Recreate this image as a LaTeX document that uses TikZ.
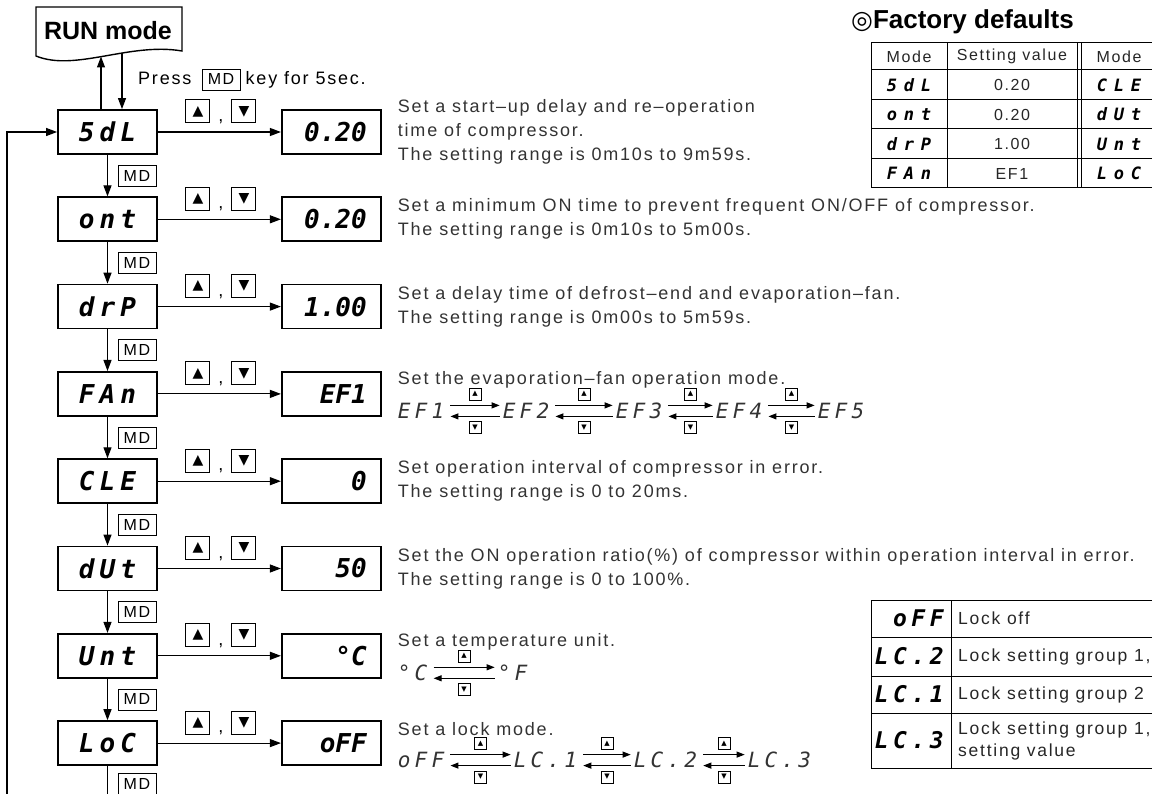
\documentclass[tikz,border=0pt]{standalone}
\usepackage{fontspec}
\setmainfont{Liberation Sans}
\newfontfamily\descfont[LetterSpace=10]{Liberation Sans}
\newfontfamily\modefont[LetterSpace=20]{DejaVu Sans Mono}
\newfontfamily\valfont{DejaVu Sans Mono}
\newfontfamily\cycfont[LetterSpace=20]{DejaVu Sans Mono}
\newfontfamily\tsegfont[LetterSpace=40]{DejaVu Sans Mono}
\newfontfamily\symfont{DejaVu Sans}
\usetikzlibrary{arrows.meta,positioning,calc}

\newcommand{\upkey}{{\symfont ▲}}
\newcommand{\dnkey}{{\symfont ▼}}
% pair of arrows between two values of a cycle
\newcommand{\swapkeys}[2]{%
  \draw[tarr] ([xshift=6pt,yshift=5.5pt]#1.east) -- node[smallbtn, above=5pt] (u-#1) {\upkey} ([xshift=-3pt,yshift=5.5pt]#2.west);
  \draw[tarr] ([xshift=-3pt,yshift=-5.5pt]#2.west) -- node[smallbtn, below=5pt] (d-#1) {\dnkey} ([xshift=6pt,yshift=-5.5pt]#1.east);
}

\begin{document}
\begin{tikzpicture}[
    x=1pt, y=-1pt,
    font=\descfont\fontsize{18}{24}\selectfont,
    node distance=41.5pt,
    modebox/.style={draw, line width=1.8pt, minimum width=99pt, minimum height=44pt, inner sep=0pt,
        font=\modefont\bfseries\itshape\fontsize{26}{26}\selectfont},
    valbox/.style={draw, line width=1.8pt, minimum width=99pt, minimum height=44pt, inner sep=0pt,
        text width=71pt, align=right, font=\valfont\bfseries\itshape\fontsize{26}{26}\selectfont},
    keybox/.style={draw, line width=0.9pt, minimum width=38pt, minimum height=21pt, inner sep=0pt,
        font=\descfont\fontsize{16}{16}\selectfont},
    btn/.style={draw, line width=1pt, minimum width=24pt, minimum height=23pt, inner sep=0pt,
        font=\symfont\fontsize{14}{14}\selectfont},
    smallbtn/.style={draw, line width=0.7pt, minimum size=12pt, inner sep=0pt,
        font=\symfont\fontsize{7}{7}\selectfont},
    desc/.style={align=left, inner sep=0pt, text=black!80},
    cyc/.style={inner sep=0pt, anchor=west, text=black!80, font=\cycfont\itshape\fontsize{21}{21}\selectfont},
    tseg/.style={inner sep=0pt, font=\tsegfont\bfseries\itshape\fontsize{17}{17}\selectfont},
    lseg/.style={inner sep=0pt, font=\modefont\bfseries\itshape\fontsize{23}{23}\selectfont},
    cell/.style={inner sep=0pt, text=black!85, font=\descfont\fontsize{16}{16}\selectfont},
    lcell/.style={inner sep=0pt, text=black!85, anchor=west, align=left, font=\descfont\fontsize{17.5}{22}\selectfont},
    tline/.style={line width=1pt},
    arr/.style={-{Triangle[length=11pt,width=8pt]}, line width=1.1pt},
    tarr/.style={-{Triangle[length=8pt,width=6pt]}, line width=1.1pt}
]
\useasboundingbox (0,0) rectangle (1152,794);
\clip (0,0) rectangle (1152,794);

%% RUN mode
\draw[line width=1.4pt] (36,7) -- (182,7) -- (182,51) .. controls (130,42) and (75,72) .. (36,56) -- cycle;
\node[font=\bfseries\fontsize{25}{25}\selectfont] (run) at (108,31) {RUN mode};
\coordinate (runA) at (101,56.5);
\coordinate (runB) at (122,53);

%% Modes
\node[modebox] (sdl) at (107.5,132) {5dL};
\node[modebox, below=of sdl] (ont) {ont};
\node[modebox, below=of ont] (drp) {drP};
\node[modebox, below=of drp] (fan) {FAn};
\node[modebox, below=of fan] (cle) {CLE};
\node[modebox, below=of cle] (dut) {dUt};
\node[modebox, below=of dut] (unt) {Unt};
\node[modebox, below=of unt] (loc) {LoC};

%% Values
\node[valbox, right=123pt of sdl] (vsdl) {0.20};
\node[valbox, right=123pt of ont] (vont) {0.20};
\node[valbox, right=123pt of drp] (vdrp) {1.00};
\node[valbox, right=123pt of fan] (vfan) {EF1};
\node[valbox, right=123pt of cle] (vcle) {0};
\node[valbox, right=123pt of dut] (vdut) {50};
\node[valbox, right=123pt of unt] (vunt) {°C};
\node[valbox, right=123pt of loc] (vloc) {oFF};

%% Entering
\node[anchor=base west, inner sep=0pt] (press) at (138,85) {Press};
\node[keybox, base right=10pt of press] (mdkey) {MD};
\node[inner sep=0pt, base right=5pt of mdkey] (press2) {key for 5sec.};
\draw[arr] (sdl.north -| runA) -- (runA);
\draw[arr] (runB) -- (sdl.north -| runB);

%% Keys
\foreach \m in {sdl,ont,drp,fan,cle,dut,unt,loc}{
    \node[btn] (up-\m) at ($(\m.east)+(40,-20.5)$) {\upkey};
    \node[btn, right=21pt of up-\m] (dn-\m) {\dnkey};
    \node[anchor=base, inner sep=0pt] (cm-\m) at ($(up-\m.south east)!0.5!(dn-\m.south west)+(0,-2)$) {,};
    \draw[arr] (\m) -- (v\m);
}
\foreach \a/\b in {sdl/ont,ont/drp,drp/fan,fan/cle,cle/dut,dut/unt,unt/loc}
    \draw[arr] (\a) -- node[keybox, right=10pt] (md-\a) {MD} (\b);
\coordinate (bottom) at (107.5,815);
\draw[line width=1.1pt] (loc) -- node[keybox, pos=0.37, right=10pt] (md-loc) {MD} (bottom);
\coordinate (loopend) at (7,815);
\draw[arr] (loopend) |- (sdl);

%% Descriptions
\node[desc, right=16pt of vsdl] (dsdl) {Set a start–up delay and re–operation\\time of compressor.\\The setting range is 0m10s to 9m59s.};
\node[desc, right=16pt of vont] (dont) {Set a minimum ON time to prevent frequent ON/OFF of compressor.\\The setting range is 0m10s to 5m00s.};
\node[desc, right=16pt of vdrp] (ddrp) {Set a delay time of defrost–end and evaporation–fan.\\The setting range is 0m00s to 5m59s.};
\node[desc, anchor=west] (dfan) at ($(vfan.east)+(16,-14)$) {Set the evaporation–fan operation mode.};
\node[desc, right=16pt of vcle] (dcle) {Set operation interval of compressor in error.\\The setting range is 0 to 20ms.};
\node[desc, right=16pt of vdut] (ddut) {Set the ON operation ratio(\%) of compressor within operation interval in error.\\The setting range is 0 to 100\%.};
\node[desc, anchor=west] (dunt) at ($(vunt.east)+(16,-14)$) {Set a temperature unit.};
\node[desc, anchor=west] (dloc) at ($(vloc.east)+(16,-14)$) {Set a lock mode.};

%% Cycles
\node[cyc] (ef1) at ($(vfan.east)+(16,17)$) {EF1};
\node[cyc] (ef2) at ($(ef1.west)+(105,0)$) {EF2};
\node[cyc] (ef3) at ($(ef1.west)+(218,0)$) {EF3};
\node[cyc] (ef4) at ($(ef1.west)+(318,0)$) {EF4};
\node[cyc] (ef5) at ($(ef1.west)+(420,0)$) {EF5};
\swapkeys{ef1}{ef2}
\swapkeys{ef2}{ef3}
\swapkeys{ef3}{ef4}
\swapkeys{ef4}{ef5}

\node[cyc] (degc) at ($(vunt.east)+(16,17)$) {°C};
\node[cyc] (degf) at ($(degc.west)+(100,0)$) {°F};
\swapkeys{degc}{degf}

\node[cyc] (lkoff) at ($(vloc.east)+(16,17)$) {oFF};
\node[cyc] (lk1) at ($(lkoff.west)+(116,0)$) {LC.1};
\node[cyc] (lk2) at ($(lkoff.west)+(236,0)$) {LC.2};
\node[cyc] (lk3) at ($(lkoff.west)+(350,0)$) {LC.3};
\swapkeys{lkoff}{lk1}
\swapkeys{lk1}{lk2}
\swapkeys{lk2}{lk3}

%% Factory defaults
\node[anchor=west, inner sep=0pt, font=\bfseries\fontsize{26}{26}\selectfont] (fdtitle) at (851,22) {{\symfont\fontsize{25}{25}\selectfont ◎}Factory defaults};
\draw[tline] (871,43) rectangle (1200,188);
\foreach \y in {70,99.5,129,158.5} \draw[tline] (871,\y) -- (1200,\y);
\foreach \x in {947,1077,1081,1157} \draw[tline] (\x,43) -- (\x,188);
\node[cell] (h1) at (909,56.5) {Mode};
\node[cell] (h2) at (1012,56.5) {Setting value};
\node[cell] (h3) at (1119,56.5) {Mode};
\foreach \a/\v/\b [count=\i] in {5dL/0.20/CLE, ont/0.20/dUt, drP/1.00/Unt, FAn/EF1/LoC}{
    \node[tseg] (fa-\i) at (909,{55.5+29.5*\i}) {\a};
    \node[cell] (fv-\i) at (1012,{55.5+29.5*\i}) {\v};
    \node[tseg] (fb-\i) at (1119,{55.5+29.5*\i}) {\b};
}

%% Lock table
\draw[tline] (871,600) rectangle (1200,768);
\foreach \y in {637,676,713} \draw[tline] (871,\y) -- (1200,\y);
\draw[tline] (951,600) -- (951,768);
\node[lseg, anchor=east] (lt1) at (944,618.5) {oFF};
\node[lseg, anchor=east] (lt2) at (944,656.5) {LC.2};
\node[lseg, anchor=east] (lt3) at (944,694.5) {LC.1};
\node[lseg, anchor=east] (lt4) at (944,740.5) {LC.3};
\node[lcell] (lx1) at (958,618.5) {Lock off};
\node[lcell] (lx2) at (958,656.5) {Lock setting group 1,3};
\node[lcell] (lx3) at (958,694.5) {Lock setting group 2};
\node[lcell] (lx4) at (958,740.5) {Lock setting group 1,\\setting value};
\end{tikzpicture}
\end{document}
